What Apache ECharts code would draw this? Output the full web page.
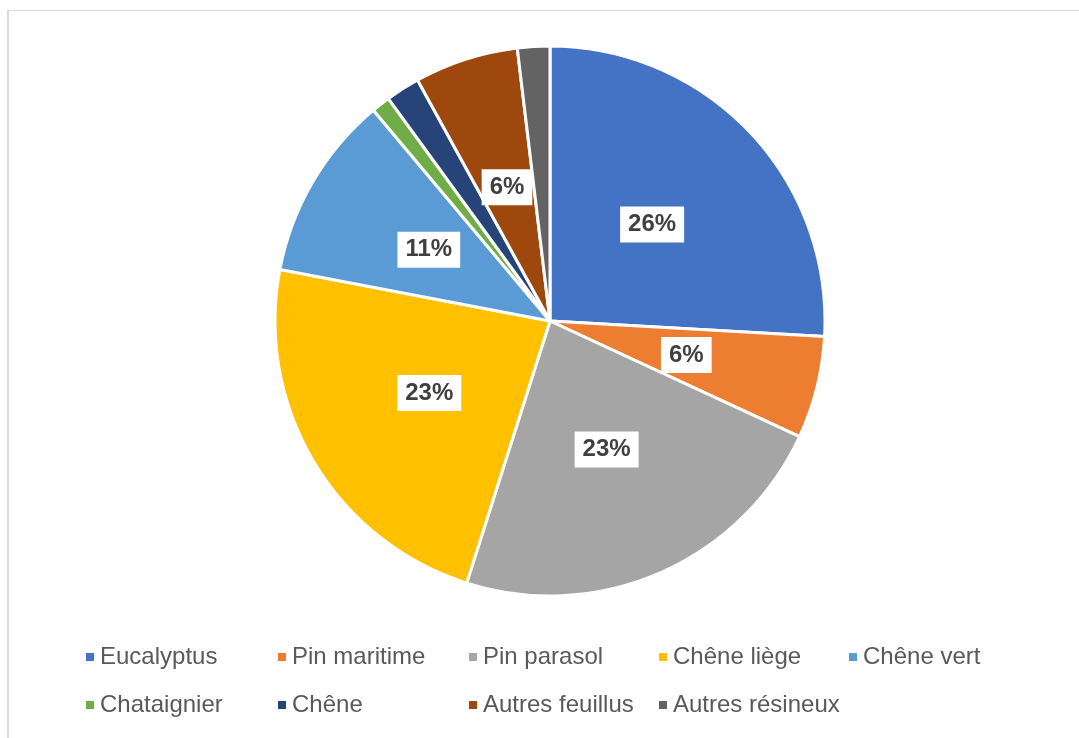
<!DOCTYPE html>
<html>
<head>
<meta charset="utf-8">
<script src="https://cdn.jsdelivr.net/npm/echarts@6/dist/echarts.min.js"></script>
<style>
html,body{margin:0;padding:0;background:#fff;}
#frame{position:absolute;left:7px;top:10px;width:1200px;height:900px;border-left:2px solid #d9d9d9;border-top:1px solid #d9d9d9;}
#chart{position:absolute;left:0;top:0;width:1079px;height:738px;}
</style>
</head>
<body>
<div id="frame"></div>
<div id="chart"></div>
<script>
const categories = ['Eucalyptus','Pin maritime','Pin parasol','Chêne liège','Chêne vert','Chataignier','Chêne','Autres feuillus','Autres résineux'];
const values = [25.9, 6.0, 23.0, 23.1, 10.9, 1.1, 2.0, 6.1, 1.9];
const colors = ['#4472C4','#ED7D31','#A5A5A5','#FFC000','#5B9BD5','#70AD47','#264478','#9E480E','#636363'];

const legendRows = [
  {y: 645, names: ['Eucalyptus','Pin maritime','Pin parasol','Chêne liège','Chêne vert'], xs: [84, 276, 467, 657, 847]},
  {y: 693, names: ['Chataignier','Chêne','Autres feuillus','Autres résineux'], xs: [84, 276, 467, 657]}
];
const legends = [];
legendRows.forEach(r => {
  r.names.forEach((n, i) => {
    legends.push({
      data: [n], left: r.xs[i], top: r.y, padding: 0, orient: 'horizontal',
      icon: 'rect', itemWidth: 10, itemHeight: 10,
      selectedMode: false,
      textStyle: {fontSize: 24, color: '#595959', fontFamily: 'Liberation Sans, Arial, sans-serif', padding: [0,0,0,0]}
    });
  });
});

const total = values.reduce((a,b)=>a+b,0);
const data = categories.map((c, i) => ({
  name: c, value: values[i],
  itemStyle: {color: colors[i]},
  label: {show: values[i] / total >= 0.05}
}));

const chart = echarts.init(document.getElementById('chart'), null, {renderer: 'canvas'});
chart.setOption({
  animation: false,
  legend: legends,
  series: [{
    type: 'pie',
    center: [550, 321],
    radius: [0, 275],
    startAngle: 90,
    clockwise: true,
    avoidLabelOverlap: false,
    itemStyle: {borderColor: '#fff', borderWidth: 3},
    label: {
      position: 'inside',
      formatter: p => Math.round(p.percent) + '%',
      fontSize: 24, fontWeight: 'bold', color: '#404040',
      fontFamily: 'Liberation Sans, Arial, sans-serif',
      backgroundColor: '#fff', padding: [6, 8, 6, 8]
    },
    labelLine: {show: false},
    emphasis: {disabled: true},
    data: data
  }]
});
</script>
</body>
</html>
